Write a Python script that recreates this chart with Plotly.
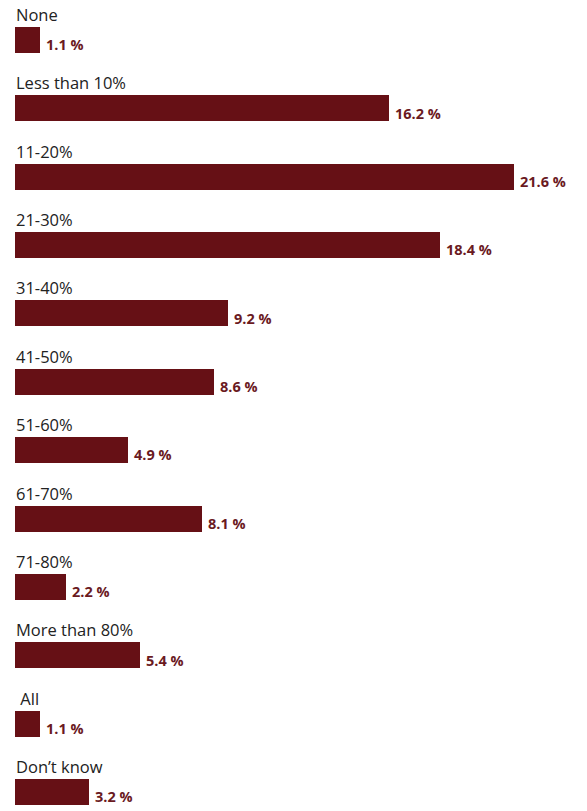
import plotly.graph_objects as go

categories = ["None", "Less than 10%", "11-20%", "21-30%", "31-40%", "41-50%",
              "51-60%", "61-70%", "71-80%", "More than 80%", "\u00a0All", "Don\u2019t know"]
values = [1.1, 16.2, 21.6, 18.4, 9.2, 8.6, 4.9, 8.1, 2.2, 5.4, 1.1, 3.2]

BAR_COLOR = "#661015"
LABEL_COLOR = "#6a1a1f"

pos = list(range(len(categories)))

fig = go.Figure()
fig.add_trace(go.Bar(
    x=values, y=pos, orientation="h", width=0.38,
    marker=dict(color=BAR_COLOR, line=dict(width=0)),
    hoverinfo="skip",
))

annotations = []
for i, (cat, v) in enumerate(zip(categories, values)):
    annotations.append(dict(
        x=0, y=i - 0.175, xref="x", yref="y", text=cat, showarrow=False,
        xanchor="left", yanchor="bottom", xshift=-1,
        font=dict(family="Open Sans, sans-serif", size=16.5, color="#222222"),
    ))
    annotations.append(dict(
        x=v, y=i + 0.07, xref="x", yref="y", text=f"{v} %", showarrow=False,
        xanchor="left", yanchor="middle", xshift=4,
        font=dict(family="Open Sans, sans-serif", size=14.5,
                  color=LABEL_COLOR, weight="bold"),
    ))

fig.update_layout(
    width=587, height=811,
    margin=dict(l=15, r=0, t=0, b=0),
    paper_bgcolor="white", plot_bgcolor="white",
    showlegend=False,
    bargap=0,
    xaxis=dict(range=[0, 572 / 23.1], visible=False, fixedrange=True),
    yaxis=dict(range=[11.278, -0.585], visible=False, fixedrange=True),
    annotations=annotations,
)

fig.write_html("out.html", config={"displayModeBar": False})
